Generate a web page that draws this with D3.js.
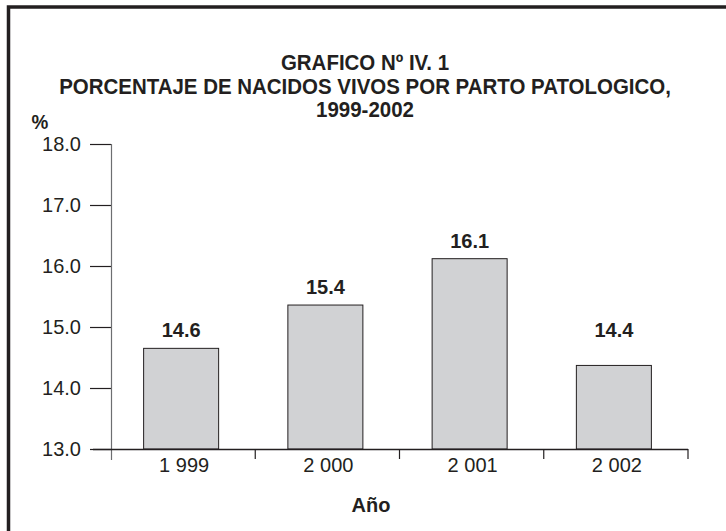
<!DOCTYPE html>
<html>
<head>
	<title></title>
	<meta charset="utf-8">
	<script src="https://d3js.org/d3.v7.min.js"></script>
<style>
	body { margin: 0; background: #fff; }
	text { font-family: "Liberation Sans", Arial, sans-serif; fill: #231f20; }
</style>
</head>
<body>

<script>

// data
var years = ["1 999", "2 000", "2 001", "2 002"];
var values = [14.65, 15.36, 16.12, 14.37];
var valueLabels = ["14.6", "15.4", "16.1", "14.4"];
var yTicks = [13, 14, 15, 16, 17, 18];
var titleLines = ["GRAFICO Nº IV. 1", "PORCENTAJE DE NACIDOS VIVOS POR PARTO PATOLOGICO,", "1999-2002"];

var width = 726,
    height = 531;

var svg = d3.select("body").append("svg")
    .attr("width", width)
    .attr("height", height);

// outer frame (cut off on right and bottom)
svg.append("rect")
    .attr("x", 8.5)
    .attr("y", 7)
    .attr("width", 900)
    .attr("height", 700)
    .attr("fill", "none")
    .attr("stroke", "#231f20")
    .attr("stroke-width", 3.5);

var x = d3.scaleBand()
    .domain(years)
    .range([111, 688])
    .paddingInner(0.48)
    .paddingOuter(0.24);

var y = d3.scaleLinear()
    .domain([13, 18])
    .range([449, 144]);

// title, narrow bold look: bigger font squeezed sideways
var titleX = 365;
svg.selectAll(".title")
    .data(titleLines)
  .enter().append("text")
    .attr("class", "title")
    .attr("transform", function(d, i) {
      return "translate(" + titleX + "," + (70 + i * 23.5) + ") scale(0.91,1)";
    })
    .attr("text-anchor", "middle")
    .style("font-size", "22.5px")
    .style("font-weight", "bold")
    .text(function(d) { return d; });

svg.append("text")
    .attr("transform", "translate(40,129) scale(0.9,1)")
    .attr("text-anchor", "middle")
    .style("font-size", "21px")
    .style("font-weight", "bold")
    .text("%");

// y axis
var yAxis = svg.append("g")
    .attr("transform", "translate(111,0)")
    .call(d3.axisLeft(y)
        .tickValues(yTicks)
        .tickSize(21)
        .tickPadding(9)
        .tickFormat(d3.format(".1f")));

yAxis.select(".domain").remove();
yAxis.selectAll(".tick line").attr("stroke", "#231f20").attr("stroke-width", 1.2);
yAxis.selectAll(".tick text")
    .attr("fill", "#231f20")
    .style("font-family", "'Liberation Sans', Arial, sans-serif")
    .style("font-size", "20px");

svg.append("line")
    .attr("x1", 111.5).attr("x2", 111.5)
    .attr("y1", y(18)).attr("y2", 460)
    .attr("stroke", "#6d6e71")
    .attr("stroke-width", 1.2);

// bars
svg.selectAll(".bar")
    .data(values)
  .enter().append("rect")
    .attr("class", "bar")
    .attr("x", function(d, i) { return x(years[i]) - 2; })
    .attr("y", function(d) { return y(d); })
    .attr("width", x.bandwidth())
    .attr("height", function(d) { return y(13) - y(d); })
    .attr("fill", "#d1d2d4")
    .attr("stroke", "#231f20")
    .attr("stroke-width", 1);

// value labels (the low last one sits at the same height as the first)
var labelFloor = values[0];
svg.selectAll(".val")
    .data(valueLabels)
  .enter().append("text")
    .attr("class", "val")
    .attr("x", function(d, i) { return x(years[i]) - 2 + x.bandwidth() / 2; })
    .attr("y", function(d, i) { return y(Math.max(values[i], labelFloor)) - 11; })
    .attr("text-anchor", "middle")
    .style("font-size", "20px")
    .style("font-weight", "bold")
    .text(function(d) { return d; });

// x axis
svg.append("line")
    .attr("x1", 93).attr("x2", 688)
    .attr("y1", 449.5).attr("y2", 449.5)
    .attr("stroke", "#231f20")
    .attr("stroke-width", 1.3);

var xEdges = years.map(function(d) { return x(d) - x.step() * x.paddingInner() / 2; }).slice(1);
xEdges.push(688);

svg.selectAll(".xtick")
    .data(xEdges)
  .enter().append("line")
    .attr("class", "xtick")
    .attr("x1", function(d) { return d; })
    .attr("x2", function(d) { return d; })
    .attr("y1", 449)
    .attr("y2", 459)
    .attr("stroke", "#231f20")
    .attr("stroke-width", 1.2);

svg.selectAll(".xlab")
    .data(years)
  .enter().append("text")
    .attr("class", "xlab")
    .attr("x", function(d) { return x(d) + x.bandwidth() / 2 + 1; })
    .attr("y", 472)
    .attr("text-anchor", "middle")
    .style("font-size", "20px")
    .text(function(d) { return d; });

svg.append("text")
    .attr("x", 371)
    .attr("y", 512)
    .attr("text-anchor", "middle")
    .style("font-size", "20px")
    .style("font-weight", "bold")
    .text("Año");

</script>

</body>
</html>
